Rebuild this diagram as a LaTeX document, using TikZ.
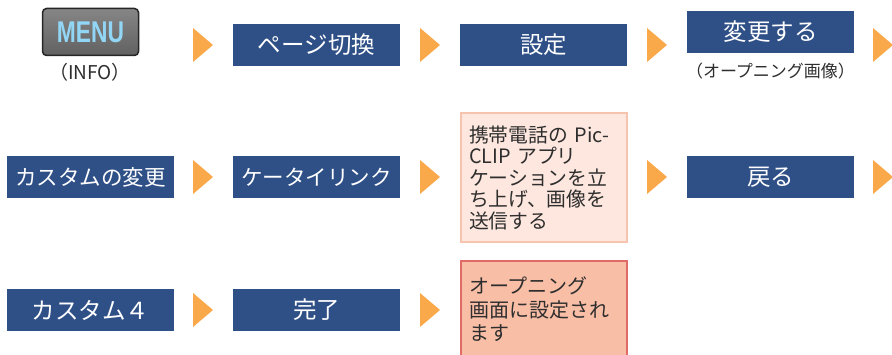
\documentclass[tikz,border=0pt]{standalone}
\usepackage{fontspec}
\usepackage{graphicx}
\newfontfamily\jp{Noto Sans CJK JP}
\newfontfamily\menufont{Liberation Sans}
\definecolor{boxblue}{HTML}{2F5087}
\definecolor{arrorange}{HTML}{F9A84A}
\definecolor{pinkfill}{HTML}{FDE7DE}
\definecolor{pinkline}{HTML}{F6C3AF}
\definecolor{salfill}{HTML}{F9BEA6}
\definecolor{salline}{HTML}{E06A6A}
\definecolor{txtgray}{HTML}{2E2E2E}
\definecolor{menublue}{HTML}{92D6F6}
\tikzset{
  bbox/.style={fill=boxblue, text=white, minimum width=167pt, minimum height=42pt,
    inner sep=0pt, font=\jp\fontsize{23.5}{23.5}\selectfont},
  bboxsmall/.style={bbox, font=\jp\fontsize{21.5}{21.5}\selectfont},
  tri/.pic={\fill[arrorange] (0,-17) -- (20,0) -- (0,17) -- cycle;},
  note/.style={text=txtgray, font=\jp\fontsize{17}{17}\selectfont, inner sep=0pt},
  pinkbox/.style={fill=pinkfill, draw=pinkline, line width=1.2pt, text=txtgray,
    align=left, text width=150pt, inner xsep=8pt, inner ysep=0pt,
    font=\jp\fontsize{19.8}{21.5}\selectfont},
  salbox/.style={fill=salfill, draw=salline, line width=1.2pt, text=txtgray,
    align=left, text width=150pt, inner xsep=8pt, inner ysep=0pt,
    font=\jp\fontsize{20}{23.5}\selectfont},
  menubtn/.style={rounded corners=4pt, top color=gray!95!white, bottom color=black!62,
    draw=black!85, line width=1.5pt, minimum width=96pt, minimum height=47pt, inner sep=0pt,
    text=menublue, font=\menufont\bfseries\fontsize{30}{30}\selectfont}
}
\begin{document}
\begin{tikzpicture}[x=1pt,y=-1pt]
\useasboundingbox (0,0) rectangle (892,355);
% row 1
\node[menubtn] (menu) at (90.5,32) {\scalebox{0.76}[1]{MENU}};
\node[note, font=\jp\fontsize{19}{19}\selectfont] (info) at (90,72) {（INFO）};
\node[bbox] (page) at (316.5,45) {ページ切換};
\node[bbox] (set) at (543.5,45) {設定};
\node[bbox] (chg) at (770.5,32) {変更する};
\node[note] (open) at (770.5,71) {（オープニング画像）};
\pic at (193,45) {tri};
\pic at (420,45) {tri};
\pic at (647,45) {tri};
\pic at (873,45) {tri};
% row 2
\node[bboxsmall] (custom) at (90.5,177) {カスタムの変更};
\node[bboxsmall] (link) at (316.5,177) {ケータイリンク};
\node[pinkbox, minimum width=166pt, minimum height=129pt] (phone) at (544,177.5)
  {携帯電話の Pic-\\CLIP アプリ\\ケーションを立\\ち上げ、画像を\\送信する};
\node[bbox] (back) at (770.5,177) {戻る};
\pic at (193,177) {tri};
\pic at (420,177) {tri};
\pic at (647,177) {tri};
\pic at (873,177) {tri};
% row 3
\node[bbox] (c4) at (90.5,310) {カスタム４};
\node[bbox] (done) at (316.5,310) {完了};
\node[salbox, minimum width=166pt, minimum height=97pt] (result) at (544,309.5)
  {オープニング\\画面に設定され\\ます};
\pic at (193,310) {tri};
\pic at (420,310) {tri};
\end{tikzpicture}
\end{document}
